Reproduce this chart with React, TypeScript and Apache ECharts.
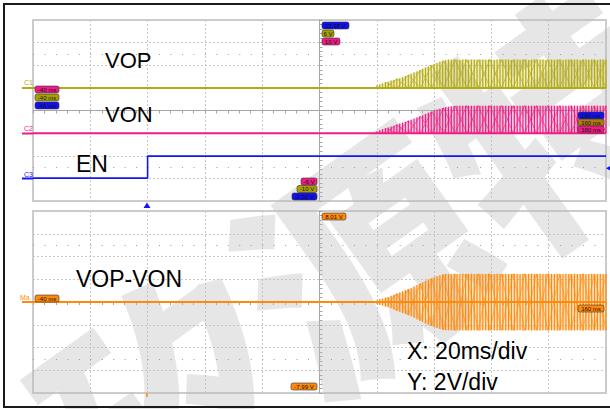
import React, { useEffect, useRef } from 'react';
import * as echarts from 'echarts';

// ---- time axis (ms), 20 ms/div ----
const timeMin = -40;
const timeMax = 160;
const timeDiv = 20;

// ---- vertical ranges (V), 2 V/div, as read from the scope readouts ----
const c1Range = [-10, 6];
const c2Range = [-6, 10];
const c3Range = [-2.02, 13.98];
const mathRange = [-7.99, 8.01];

// ---- EN (C3) ----
const enTimes = [-40, 0, 0, 160];
const enVolts = [0, 0, 1.95, 1.95];

// ---- idle traces ----
const idleTimes = [-40, 160];
const idleVolts = [0, 0];

// ---- burst columns (ms) ----
const burstTimes = [
  80, 81, 82, 83, 84, 85, 86, 87, 88, 89,
  90, 91, 92, 93, 94, 95, 96, 97, 98, 99,
  100, 101, 102, 103, 104, 105, 106, 107, 108, 109,
  110, 111, 112, 113, 114, 115, 116, 117, 118, 119,
  120, 121, 122, 123, 124, 125, 126, 127, 128, 129,
  130, 131, 132, 133, 134, 135, 136, 137, 138, 139,
  140, 141, 142, 143, 144, 145, 146, 147, 148, 149,
  150, 151, 152, 153, 154, 155, 156, 157, 158, 159, 160,
];
// VOP column peaks (V)
const vopPeak = [
  0.2, 0.3, 0.4, 0.5, 0.55, 0.65, 0.7, 0.8, 0.85, 0.95,
  1.05, 1.15, 1.25, 1.35, 1.45, 1.55, 1.7, 1.8, 1.9, 2.0,
  2.1, 2.2, 2.3, 2.4, 2.45, 2.5, 2.48, 2.5, 2.5, 2.47,
  2.5, 2.5, 2.48, 2.5, 2.5, 2.47, 2.5, 2.5, 2.48, 2.5,
  2.5, 2.47, 2.5, 2.5, 2.48, 2.5, 2.5, 2.47, 2.5, 2.5,
  2.48, 2.5, 2.5, 2.47, 2.5, 2.5, 2.48, 2.5, 2.5, 2.47,
  2.5, 2.5, 2.48, 2.5, 2.5, 2.47, 2.5, 2.5, 2.48, 2.5,
  2.5, 2.47, 2.5, 2.5, 2.48, 2.5, 2.5, 2.47, 2.5, 2.5, 2.48,
];
// VON column peaks (V)
const vonPeak = [
  0.15, 0.25, 0.35, 0.42, 0.5, 0.58, 0.66, 0.75, 0.84, 0.93,
  1.0, 1.1, 1.18, 1.28, 1.38, 1.48, 1.58, 1.7, 1.8, 1.9,
  2.0, 2.08, 2.15, 2.22, 2.28, 2.33, 2.37, 2.4, 2.42, 2.43,
  2.43, 2.42, 2.43, 2.43, 2.41, 2.43, 2.43, 2.42, 2.43, 2.43,
  2.41, 2.43, 2.43, 2.42, 2.43, 2.43, 2.41, 2.43, 2.43, 2.42,
  2.43, 2.43, 2.41, 2.43, 2.43, 2.42, 2.43, 2.43, 2.41, 2.43,
  2.43, 2.42, 2.43, 2.43, 2.41, 2.43, 2.43, 2.42, 2.43, 2.43,
  2.41, 2.43, 2.43, 2.42, 2.43, 2.43, 2.41, 2.43, 2.43, 2.42, 2.43,
];
// VOP-VON column half-amplitude (V)
const mathPeak = [
  0.15, 0.25, 0.3, 0.38, 0.45, 0.55, 0.65, 0.75, 0.85, 0.95,
  1.05, 1.15, 1.25, 1.38, 1.5, 1.62, 1.75, 1.88, 1.98, 2.08,
  2.18, 2.28, 2.36, 2.42, 2.46, 2.48, 2.48, 2.5, 2.48, 2.48,
  2.5, 2.48, 2.48, 2.5, 2.48, 2.48, 2.5, 2.48, 2.48, 2.5,
  2.48, 2.48, 2.5, 2.48, 2.48, 2.5, 2.48, 2.48, 2.5, 2.48,
  2.48, 2.5, 2.48, 2.48, 2.5, 2.48, 2.48, 2.5, 2.48, 2.48,
  2.5, 2.48, 2.48, 2.5, 2.48, 2.48, 2.5, 2.48, 2.48, 2.5,
  2.48, 2.48, 2.5, 2.48, 2.48, 2.5, 2.48, 2.48, 2.5, 2.48, 2.48,
];

// ---- aliasing "X" pattern turning points ----
const crossTimes = [83, 87, 91, 95.2, 99.2, 103.3, 107.3, 111.4, 115.4, 119.5, 123.5, 127.6, 131.6, 135.7, 139.7, 143.8, 147.8, 151.9, 155.9, 160];
const vopCross = [0.5, 0.8, 1.15, 1.57, 2.02, 2.4, 2.5, 2.5, 2.5, 2.5, 2.5, 2.5, 2.5, 2.5, 2.5, 2.5, 2.5, 2.5, 2.5, 2.5];
const vonCross = [0.42, 0.75, 1.1, 1.5, 1.92, 2.24, 2.41, 2.43, 2.43, 2.43, 2.43, 2.43, 2.43, 2.43, 2.43, 2.43, 2.43, 2.43, 2.43, 2.43];
const mathCross = [0.38, 0.75, 1.15, 1.64, 2.1, 2.43, 2.48, 2.48, 2.48, 2.48, 2.48, 2.48, 2.48, 2.48, 2.48, 2.48, 2.48, 2.48, 2.48, 2.48];

// ---- labels ----
const traceLabels = ['VOP', 'VON', 'EN', 'VOP-VON'];
const scaleLabels = ['X: 20ms/div', 'Y: 2V/div'];
const channelNames = ['C1', 'C2', 'C3', 'Ma'];
const timeTags = ['-40 ms', '160 ms'];
const c1Tags = ['6 V', '-10 V'];
const c2Tags = ['10 V', '-6 V'];
const c3Tags = ['13.98 V', '-2.02 V'];
const mathTags = ['8.01 V', '-7.99 V'];
const watermark = '矽源特';

const OLIVE = '#b3aa14';
const PINK = '#ee1c84';
const BLUE = '#1414ff';
const ORANGE = '#ff8a0a';

const pts = (xs: number[], ys: number[]) => xs.map((x, i) => [x, ys[i]]);
const neg = (ys: number[]) => ys.map((v) => -v);
const zig = (xs: number[], hi: number[], lo: number[], startHi: boolean) =>
  xs.map((x, i) => [x, (i % 2 === 0) === startHi ? hi[i] : lo[i]]);

function burstSeries(xi: number, yi: number, color: string, fill: string, peaks: number[], cross: number[], symmetric: boolean) {
  const out: any[] = [];
  const lows = symmetric ? neg(cross) : cross.map(() => 0);
  const up = pts(burstTimes, peaks);
  out.push({
    type: 'line', xAxisIndex: xi, yAxisIndex: yi, data: up, showSymbol: false, silent: true,
    lineStyle: { width: 0 }, areaStyle: { color: fill }, z: 2,
  });
  out.push({
    type: 'bar', xAxisIndex: xi, yAxisIndex: yi, data: up, barWidth: 1.2, barGap: '-100%', silent: true,
    itemStyle: { color }, z: 3,
  });
  if (symmetric) {
    const dn = pts(burstTimes, neg(peaks));
    out.push({
      type: 'line', xAxisIndex: xi, yAxisIndex: yi, data: dn, showSymbol: false, silent: true,
      lineStyle: { width: 0 }, areaStyle: { color: fill }, z: 2,
    });
    out.push({
      type: 'bar', xAxisIndex: xi, yAxisIndex: yi, data: dn, barWidth: 1.2, barGap: '-100%', silent: true,
      itemStyle: { color }, z: 3,
    });
  }
  out.push({
    type: 'line', xAxisIndex: xi, yAxisIndex: yi, data: zig(crossTimes, cross, lows, true), showSymbol: false,
    silent: true, lineStyle: { width: 0.8, color, opacity: 0.75 }, z: 4,
  });
  out.push({
    type: 'line', xAxisIndex: xi, yAxisIndex: yi, data: zig(crossTimes, cross, lows, false), showSymbol: false,
    silent: true, lineStyle: { width: 0.8, color, opacity: 0.75 }, z: 4,
  });
  return out;
}

function tag(x: number, y: number, w: number, text: string, fill: string) {
  return {
    type: 'group', x, y, z: 20,
    children: [
      { type: 'rect', shape: { x: 0, y: 0, width: w, height: 7, r: 2 }, style: { fill, stroke: '#333', lineWidth: 0.6 }, z: 20 },
      {
        type: 'text', x: w / 2, y: 3.8, z: 21,
        style: { text, fill: '#111', font: '6px "Liberation Sans"', align: 'center', verticalAlign: 'middle' },
      },
    ],
  };
}

const gridLine = { color: '#c8c8c8', type: [2, 2] as any, width: 1 };

function xAxisFor(gridIndex: number) {
  return {
    type: 'value', gridIndex, min: timeMin, max: timeMax, interval: timeDiv,
    axisLabel: { show: false },
    axisLine: { show: true, onZero: true, lineStyle: { color: '#a6a6a6', width: 1 } },
    axisTick: { show: true, length: 3, lineStyle: { color: '#a6a6a6' } },
    minorTick: { show: true, splitNumber: 5, length: 3, lineStyle: { color: '#a6a6a6' } },
    splitLine: { show: true, lineStyle: gridLine },
  };
}
function divAxisFor(gridIndex: number) {
  return {
    type: 'value', gridIndex, min: -4, max: 4, interval: 1, position: 'left', offset: -286.5,
    axisLabel: { show: false },
    axisLine: { show: true, onZero: false, lineStyle: { color: '#a6a6a6', width: 1 } },
    axisTick: { show: true, length: 3, inside: true, lineStyle: { color: '#a6a6a6' } },
    minorTick: { show: true, splitNumber: 5, length: 3, lineStyle: { color: '#a6a6a6' } },
    splitLine: { show: true, lineStyle: gridLine },
  };
}
function hiddenAxis(gridIndex: number, r: number[]) {
  return { type: 'value', gridIndex, min: r[0], max: r[1], show: false, splitLine: { show: false } };
}

export default function App() {
  const ref = useRef<HTMLDivElement>(null);
  useEffect(() => {
    if (!ref.current) return;
    const chart = echarts.init(ref.current, undefined, { renderer: 'svg' });

    const dotRows = (xi: number, yi: number) => ({
      type: 'line', xAxisIndex: xi, yAxisIndex: yi, data: [[60, 0]], showSymbol: false, silent: true,
      lineStyle: { opacity: 0 },
      markLine: {
        silent: true, symbol: 'none', label: { show: false },
        lineStyle: { color: '#9a9a9a', type: [1, 10.46] as any, width: 1 },
        data: [{ yAxis: 2.5 }, { yAxis: -2.5 }],
      },
    });

    const series: any[] = [
      dotRows(0, 0),
      dotRows(1, 4),
      // idle baselines
      { type: 'line', xAxisIndex: 0, yAxisIndex: 1, data: pts(idleTimes, idleVolts), showSymbol: false, silent: true, lineStyle: { color: OLIVE, width: 2 }, z: 5 },
      { type: 'line', xAxisIndex: 0, yAxisIndex: 2, data: pts(idleTimes, idleVolts), showSymbol: false, silent: true, lineStyle: { color: PINK, width: 2 }, z: 5 },
      { type: 'line', xAxisIndex: 1, yAxisIndex: 5, data: pts(idleTimes, idleVolts), showSymbol: false, silent: true, lineStyle: { color: ORANGE, width: 2 }, z: 5 },
      ...burstSeries(0, 1, OLIVE, 'rgba(200,190,40,0.42)', vopPeak, vopCross, false),
      ...burstSeries(0, 2, PINK, 'rgba(240,70,150,0.36)', vonPeak, vonCross, false),
      ...burstSeries(1, 5, ORANGE, 'rgba(255,150,40,0.4)', mathPeak, mathCross, true),
      { type: 'line', xAxisIndex: 0, yAxisIndex: 3, data: pts(enTimes, enVolts), showSymbol: false, silent: true, lineStyle: { color: BLUE, width: 1.6 }, z: 6 },
    ];

    const txt = (text: string, x: number, y: number, size: number) => ({
      type: 'text', x, y, z: 22,
      style: { text, fill: '#000', font: `${size}px "Liberation Sans"`, align: 'left', verticalAlign: 'middle' },
    });
    const chName = (text: string, y: number, color: string, x: number) => ({
      type: 'text', x, y, z: 22, style: { text, fill: color, font: '7px "Liberation Sans"', align: 'left', verticalAlign: 'middle' },
    });
    const lvl = (y: number, color: string) => ({ type: 'line', z: 22, shape: { x1: 22, y1: y, x2: 33, y2: y }, style: { stroke: color, lineWidth: 2 } });

    const graphic: any[] = [
      // watermark
      {
        type: 'text', x: 355, y: 252, rotation: 0.62, z: 1, silent: true,
        style: { text: watermark, fill: 'rgba(185,185,185,0.36)', font: '900 238px "Noto Sans CJK SC"', align: 'center', verticalAlign: 'middle' },
      },
      // outer frame
      { type: 'rect', z: 30, shape: { x: 4, y: 4, width: 630, height: 403 }, style: { fill: 'none', stroke: '#1a1a1a', lineWidth: 2 } },
      txt(traceLabels[0], 105, 60, 22),
      txt(traceLabels[1], 105, 114.5, 22),
      txt(traceLabels[2], 76, 164, 23),
      txt(traceLabels[3], 76, 279, 23),
      txt(scaleLabels[0], 407, 351, 23),
      txt(scaleLabels[1], 407, 381.5, 23),
      chName(channelNames[0], 82.5, OLIVE, 24),
      chName(channelNames[1], 128.5, PINK, 24),
      chName(channelNames[2], 174, BLUE, 24),
      chName(channelNames[3], 297.5, ORANGE, 20),
      lvl(88, OLIVE), lvl(133.5, PINK), lvl(178.5, BLUE), lvl(302, ORANGE),
      // trigger markers
      { type: 'polygon', z: 22, shape: { points: [[143.5, 208], [150.5, 208], [147, 202.5]] }, style: { fill: BLUE } },
      { type: 'line', z: 22, shape: { x1: 147, y1: 393, x2: 147, y2: 397 }, style: { stroke: ORANGE, lineWidth: 1.5 } },
      { type: 'polygon', z: 22, shape: { points: [[610, 166], [610, 170.5], [606, 168.2]] }, style: { fill: BLUE } },
      // readout tags
      tag(35, 86, 24, timeTags[0], PINK),
      tag(35, 94, 24, timeTags[0], '#a9a000'),
      tag(35, 102, 24, timeTags[0], '#1010f0'),
      tag(35, 295, 24, timeTags[0], ORANGE),
      tag(322, 22, 27, c3Tags[0], '#1010f0'),
      tag(322, 30, 12, c1Tags[0], '#a9a000'),
      tag(322, 38, 18, c2Tags[0], PINK),
      tag(322, 213, 24, mathTags[0], ORANGE),
      tag(301, 178, 16, c2Tags[1], PINK),
      tag(297, 185.5, 20, c1Tags[1], '#a9a000'),
      tag(292, 193, 25, c3Tags[1], '#1010f0'),
      tag(291, 383, 26, mathTags[1], ORANGE),
      tag(578, 112, 26, timeTags[1], '#1010f0'),
      tag(578, 119, 26, timeTags[1], '#b07a10'),
      tag(578, 126, 26, timeTags[1], PINK),
      tag(578, 305, 26, timeTags[1], ORANGE),
    ];

    chart.setOption({
      animation: false,
      backgroundColor: '#fff',
      grid: [
        { left: 33, top: 20, width: 573, height: 181, show: true, borderColor: '#cdcdcd', borderWidth: 2, backgroundColor: 'transparent' },
        { left: 33, top: 211, width: 573, height: 182, show: true, borderColor: '#cdcdcd', borderWidth: 2, backgroundColor: 'transparent' },
      ],
      xAxis: [xAxisFor(0), xAxisFor(1)],
      yAxis: [
        divAxisFor(0),
        hiddenAxis(0, c1Range),
        hiddenAxis(0, c2Range),
        hiddenAxis(0, c3Range),
        divAxisFor(1),
        hiddenAxis(1, mathRange),
      ],
      series,
      graphic,
    });
    return () => chart.dispose();
  }, []);
  return <div ref={ref} style={{ position: 'fixed', left: 0, top: 0, width: 610, height: 409 }} />;
}
